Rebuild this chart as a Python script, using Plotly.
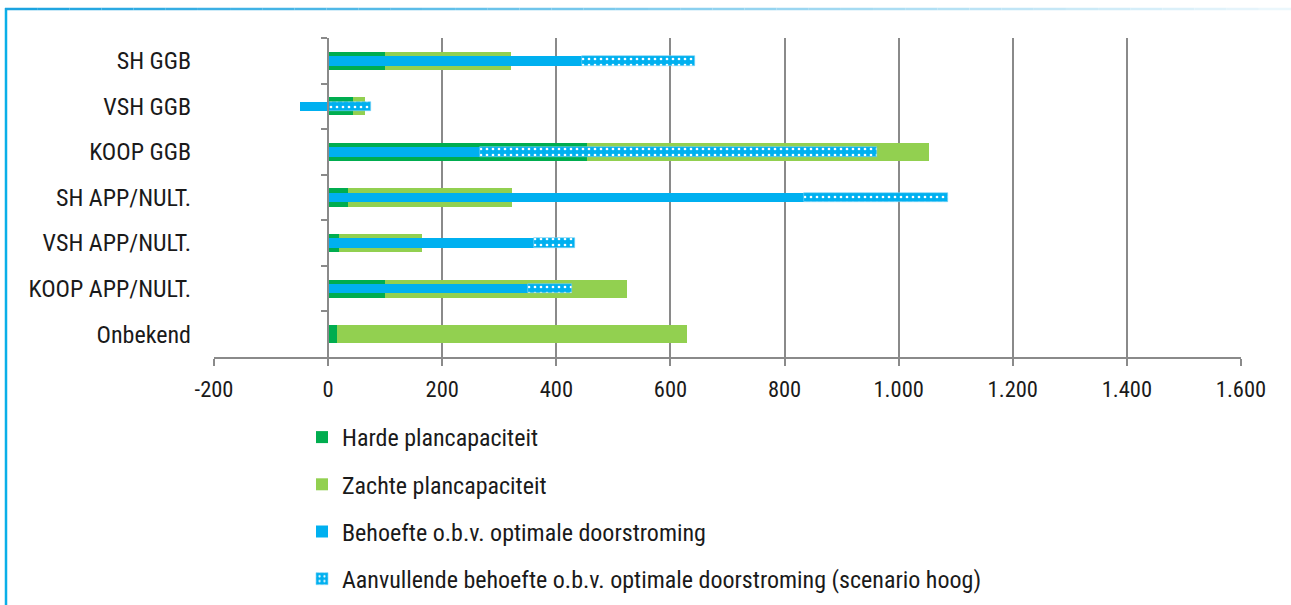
import plotly.graph_objects as go

categories = ["SH GGB", "VSH GGB", "KOOP GGB", "SH APP/NULT.", "VSH APP/NULT.", "KOOP APP/NULT.", "Onbekend"]
harde = [100, 44, 453, 35, 19, 100, 15]
zachte = [220, 21, 600, 288, 146, 423, 614]
behoefte = [445, -50, 266, 834, 361, 350, 0]
aanvullend = [198, 75, 696, 252, 72, 78, 0]

series_names = [
    "Harde plancapaciteit",
    "Zachte plancapaciteit",
    "Behoefte o.b.v. optimale doorstroming",
    "Aanvullende behoefte o.b.v. optimale doorstroming (scenario hoog)",
]
x_tickvals = [-200, 0, 200, 400, 600, 800, 1000, 1200, 1400, 1600]
x_ticktext = ["-200", "0", "200", "400", "600", "800", "1.000", "1.200", "1.400", "1.600"]

W, H = 1291, 605
L, R, T, B = 214, 50, 38, 248
PW, PH = W - L - R, H - T - B

FONT = "Roboto Condensed, DejaVu Sans Condensed, sans-serif"
FS_Y = 24
FS_X = 22.5
FS_LEG = 24
TXT = "#1a1a1a"
GRID = "#8a8a8a"
C_HARD, C_SOFT, C_BLUE = "#00AD4F", "#92D050", "#00B0F0"

zachte_base = harde
aanv_base = [max(b, 0) for b in behoefte]

fig = go.Figure()
fig.add_trace(go.Bar(y=categories, x=harde, orientation="h", name=series_names[0],
                     marker=dict(color=C_HARD, line=dict(width=0)), width=0.4,
                     legendgroup="a", yaxis="y"))
fig.add_trace(go.Bar(y=categories, x=zachte, base=zachte_base, orientation="h", name=series_names[1],
                     marker=dict(color=C_SOFT, line=dict(width=0)), width=0.4,
                     legendgroup="b", yaxis="y"))
fig.add_trace(go.Bar(y=categories, x=behoefte, orientation="h", name=series_names[2],
                     marker=dict(color=C_BLUE, line=dict(width=0)), width=0.21,
                     legendgroup="c", yaxis="y2"))
fig.add_trace(go.Bar(y=categories, x=aanvullend, base=aanv_base, orientation="h", name=series_names[3],
                     marker=dict(color=C_BLUE, line=dict(width=0.6, color="#7fd3f5"),
                                 pattern=dict(shape=".", fgcolor="white", bgcolor=C_BLUE,
                                              fillmode="replace", size=6, solidity=0.16)),
                     width=0.21, legendgroup="d", yaxis="y2"))

xmin, xmax = x_tickvals[0], x_tickvals[-1]
zero_pos = (0 - xmin) / (xmax - xmin)
yrange = [len(categories) - 0.5, -0.5]


def px_x(p):
    return (p - L) / PW


def px_y(p):
    return 1 - (p - T) / PH


shapes = []
shapes.append(dict(type="line", xref="paper", yref="paper", x0=px_x(6), x1=px_x(6),
                   y0=px_y(8), y1=px_y(H + 5), line=dict(color="#0AAFE8", width=2.5)))
n = 40
c0 = (27, 163, 224)
c1 = (235, 247, 252)
for i in range(n):
    t = i / (n - 1)
    col = tuple(int(c0[k] + (c1[k] - c0[k]) * t) for k in range(3))
    xa = 5 + (W - 5) * i / n
    xb = 5 + (W - 5) * (i + 1) / n
    shapes.append(dict(type="line", xref="paper", yref="paper", x0=px_x(xa), x1=px_x(xb),
                       y0=px_y(9), y1=px_y(9), line=dict(color="rgb(%d,%d,%d)" % col, width=2.5)))

fig.update_layout(
    template="none",
    width=W, height=H,
    margin=dict(l=L, r=R, t=T, b=B, autoexpand=False),
    paper_bgcolor="white", plot_bgcolor="white",
    barmode="overlay",
    bargap=0,
    font=dict(family=FONT, size=FS_LEG, color=TXT),
    xaxis=dict(range=[xmin, xmax], tickvals=x_tickvals, ticktext=x_ticktext,
               showgrid=True, gridcolor=GRID, gridwidth=1.5, zeroline=False,
               showline=True, linecolor=GRID, linewidth=1.5,
               ticks="outside", ticklen=7, tickwidth=1.5, tickcolor=GRID, ticklabelstandoff=4,
               tickfont=dict(size=FS_X, family=FONT, color=TXT), fixedrange=True),
    yaxis=dict(type="category", categoryorder="array", categoryarray=categories,
               range=yrange, showgrid=False, zeroline=False, showline=False,
               ticks="", ticklabelstandoff=22,
               tickfont=dict(size=FS_Y, family=FONT, color=TXT)),
    yaxis2=dict(type="category", categoryorder="array", categoryarray=categories,
                range=yrange, overlaying="y", anchor="free", position=zero_pos, side="left",
                showgrid=False, zeroline=False, showticklabels=False,
                showline=True, linecolor=GRID, linewidth=1.5,
                ticks="outside", tickson="boundaries", ticklen=6, tickwidth=1.5, tickcolor=GRID),
    legend=dict(x=px_x(302), xanchor="left", yref="container", y=1 - 415 / H, yanchor="top",
                orientation="v", tracegroupgap=13, traceorder="grouped",
                font=dict(size=FS_LEG, family=FONT, color=TXT),
                bgcolor="rgba(0,0,0,0)"),
    shapes=shapes,
    showlegend=True,
)

fig.write_html("out.html", config={"displayModeBar": False},
               post_script="document.body.style.margin='0px';")
